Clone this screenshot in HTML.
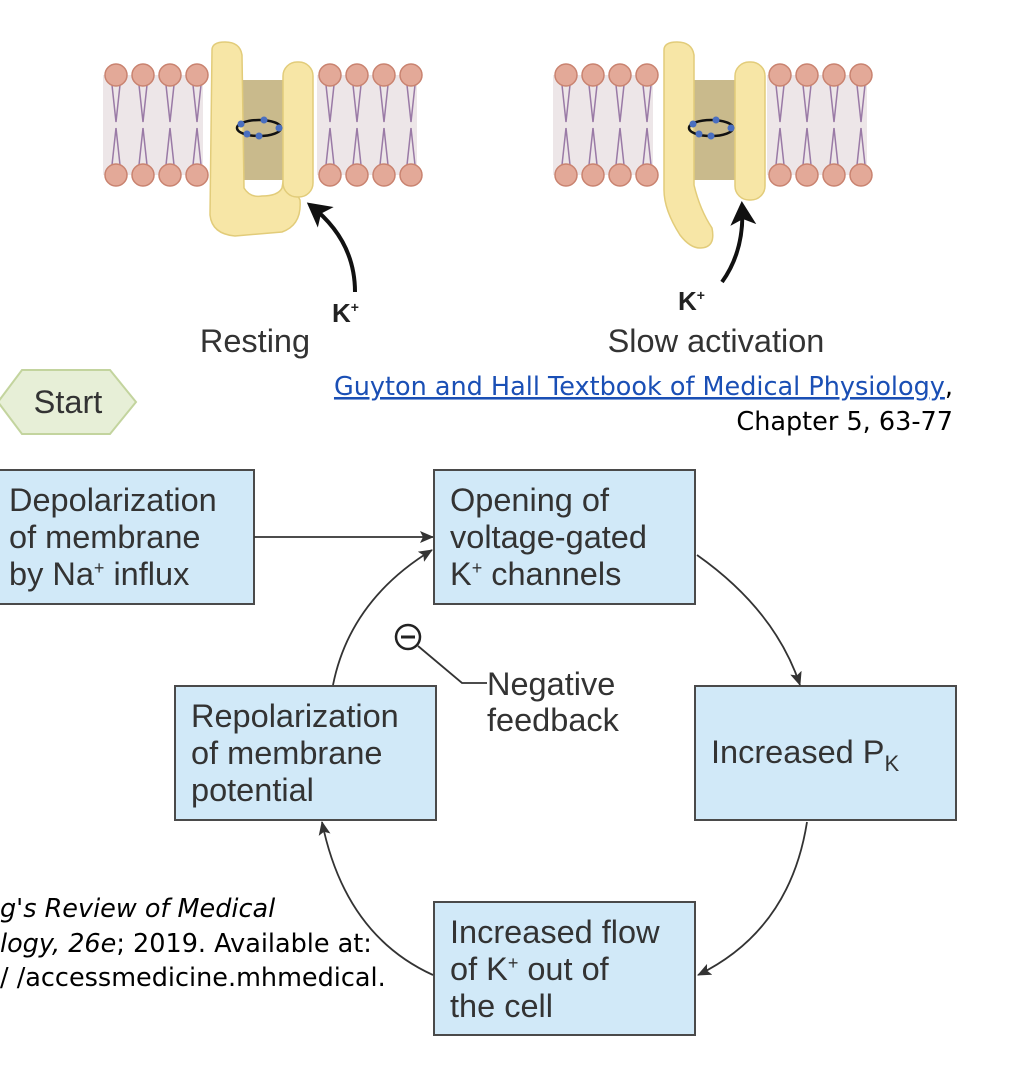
<!DOCTYPE html>
<html><head><meta charset="utf-8"><style>
html,body{margin:0;padding:0;background:#fff;}
svg{display:block;}
.b{font-family:"Liberation Sans",sans-serif;font-size:32.5px;fill:#333;}
.c{font-family:"DejaVu Sans","Liberation Sans",sans-serif;font-size:25.5px;fill:#000;}
</style></head><body>
<svg width="1030" height="1092" viewBox="0 0 1030 1092" xmlns="http://www.w3.org/2000/svg">
<defs>
<marker id="ah" markerWidth="14" markerHeight="12" refX="13" refY="6" orient="auto" markerUnits="userSpaceOnUse"><path d="M0,0 L14,6 L0,12 L3,6 Z" fill="#333"/></marker>
<marker id="bh" markerWidth="26" markerHeight="26" refX="20" refY="13" orient="auto" markerUnits="userSpaceOnUse"><path d="M0,0 L24,13 L0,26 L6,13 Z" fill="#111"/></marker>
<g id="lip">
<rect x="0" y="75" width="100" height="100" fill="#ede6e8"/>
<g stroke="#9a7aa6" stroke-width="1.5" fill="none">
<path d="M9,85 L13,122 M17,85 L13,122 M36,85 L40,122 M44,85 L40,122 M63,85 L67,122 M71,85 L67,122 M90,85 L94,122 M98,85 L94,122"/>
<path d="M9,165 L13,128 M17,165 L13,128 M36,165 L40,128 M44,165 L40,128 M63,165 L67,128 M71,165 L67,128 M90,165 L94,128 M98,165 L94,128"/>
</g>
<g fill="#e3a998" stroke="#c98370" stroke-width="1.5">
<circle cx="13" cy="75" r="11"/><circle cx="40" cy="75" r="11"/><circle cx="67" cy="75" r="11"/><circle cx="94" cy="75" r="11"/>
<circle cx="13" cy="175" r="11"/><circle cx="40" cy="175" r="11"/><circle cx="67" cy="175" r="11"/><circle cx="94" cy="175" r="11"/>
</g>
</g>
<g id="ring">
<ellipse cx="0" cy="0" rx="22" ry="8" fill="none" stroke="#111" stroke-width="2.5"/>
<g fill="#4a6fc0"><circle cx="-18" cy="-4" r="3.5"/><circle cx="5" cy="-8" r="3.5"/><circle cx="20" cy="0" r="3.5"/><circle cx="0" cy="8" r="3.5"/><circle cx="-12" cy="6" r="3.5"/></g>
</g>
</defs>

<use href="#lip" x="103"/><use href="#lip" x="317"/>
<rect x="240" y="80" width="50" height="100" fill="#c9ba8c"/>
<path d="M212,50 Q212,42 225,42 Q240,42 242,55 L244,188 Q250,198 262,196 Q278,196 282,188 L285,170 L300,200 Q302,225 282,232 L235,236 Q212,234 210,215 Z" fill="#f7e6a6" stroke="#e2cc7a" stroke-width="1.5"/>
<rect x="283" y="62" width="30" height="135" rx="14" fill="#f7e6a6" stroke="#e2cc7a" stroke-width="1.5"/>
<use href="#ring" x="259" y="128"/>
<path d="M355,292 Q355,240 310,205" fill="none" stroke="#111" stroke-width="4" marker-end="url(#bh)"/>
<text x="332" y="322" style="font-family:'Liberation Sans',sans-serif;font-weight:bold;font-size:26px;fill:#222">K<tspan font-size="14" dy="-10">+</tspan></text>
<text x="255" y="352" text-anchor="middle" class="b">Resting</text>

<use href="#lip" x="553"/><use href="#lip" x="767"/>
<rect x="690" y="80" width="50" height="100" fill="#c9ba8c"/>
<path d="M664,50 Q664,42 677,42 Q692,42 694,55 L694,185 Q700,210 712,228 Q716,248 700,248 Q690,248 680,235 Q664,210 664,190 Z" fill="#f7e6a6" stroke="#e2cc7a" stroke-width="1.5"/>
<rect x="735" y="62" width="30" height="138" rx="14" fill="#f7e6a6" stroke="#e2cc7a" stroke-width="1.5"/>
<use href="#ring" x="711" y="128"/>
<path d="M722,282 Q745,250 742,205" fill="none" stroke="#111" stroke-width="4" marker-end="url(#bh)"/>
<text x="678" y="310" style="font-family:'Liberation Sans',sans-serif;font-weight:bold;font-size:26px;fill:#222">K<tspan font-size="14" dy="-10">+</tspan></text>
<text x="716" y="352" text-anchor="middle" class="b">Slow activation</text>

<polygon points="-2,402 22,370 110,370 136,402 110,434 22,434" fill="#e7efd7" stroke="#c3d49e" stroke-width="2"/>
<text x="68" y="413" text-anchor="middle" class="b">Start</text>

<text x="953" y="395" text-anchor="end" class="c"><tspan fill="#1a4fb5" text-decoration="underline">Guyton and Hall Textbook of Medical Physiology</tspan>,</text>
<text x="953" y="430" text-anchor="end" class="c">Chapter 5, 63-77</text>
<text x="0" y="917" class="c"><tspan font-style="italic">g's Review of Medical</tspan></text>
<text x="0" y="952" class="c"><tspan font-style="italic">logy, 26e</tspan>; 2019. Available at:</text>
<text x="0" y="986" class="c">/ /accessmedicine.mhmedical.</text>

<g fill="#d1e9f8" stroke="#4a4a4a" stroke-width="2">
<rect x="-2" y="470" width="256" height="134"/>
<rect x="434" y="470" width="261" height="134"/>
<rect x="695" y="686" width="261" height="134"/>
<rect x="434" y="902" width="261" height="133"/>
<rect x="175" y="686" width="261" height="134"/>
</g>
<text class="b"><tspan x="9" y="511">Depolarization</tspan><tspan x="9" y="548">of membrane</tspan><tspan x="9" y="585">by Na<tspan font-size="18" dy="-11">+</tspan><tspan dy="11"> influx</tspan></tspan></text>
<text class="b"><tspan x="450" y="511">Opening of</tspan><tspan x="450" y="548">voltage-gated</tspan><tspan x="450" y="585">K<tspan font-size="18" dy="-11">+</tspan><tspan dy="11"> channels</tspan></tspan></text>
<text class="b" x="711" y="763">Increased P<tspan font-size="22" dy="8">K</tspan></text>
<text class="b"><tspan x="450" y="943">Increased flow</tspan><tspan x="450" y="980">of K<tspan font-size="18" dy="-11">+</tspan><tspan dy="11"> out of</tspan></tspan><tspan x="450" y="1017">the cell</tspan></text>
<text class="b"><tspan x="191" y="727">Repolarization</tspan><tspan x="191" y="764">of membrane</tspan><tspan x="191" y="801">potential</tspan></text>

<g fill="none" stroke="#333" stroke-width="1.8">
<path d="M254,537 L433,537" marker-end="url(#ah)"/>
<path d="M697,555 Q775,610 800,685" marker-end="url(#ah)"/>
<path d="M807,822 Q790,930 698,975" marker-end="url(#ah)"/>
<path d="M433,975 Q345,935 322,822" marker-end="url(#ah)"/>
<path d="M333,685 Q350,600 432,550" marker-end="url(#ah)"/>
<path d="M418,646 L462,683 L487,683"/>
</g>
<circle cx="408" cy="637" r="12" fill="#fff" stroke="#222" stroke-width="2.5"/>
<line x1="401" y1="637" x2="415" y2="637" stroke="#222" stroke-width="3"/>
<text class="b"><tspan x="487" y="695">Negative</tspan><tspan x="487" y="731">feedback</tspan></text>
</svg>
</body></html>
